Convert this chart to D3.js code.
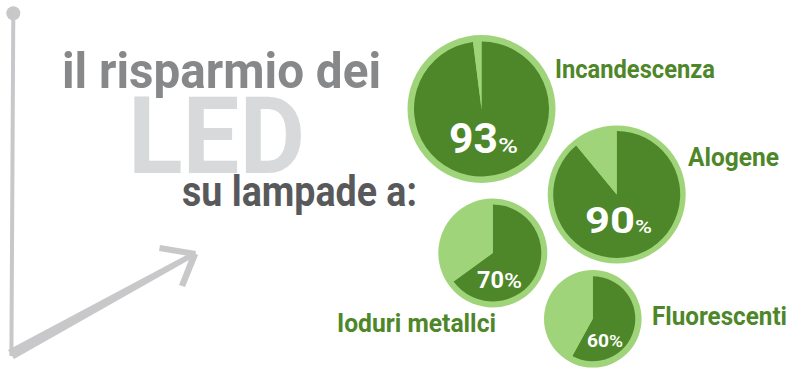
<!DOCTYPE html>
<html><head><meta charset="utf-8">
<script src="https://cdn.jsdelivr.net/npm/d3@7"></script>
<style>html,body{margin:0;padding:0;background:#fff;}svg{display:block;}</style>
</head><body>
<svg id="c" width="796" height="373"></svg>
<script>
// ---- data ----
const categories = ["Incandescenza", "Alogene", "Ioduri metallci", "Fluorescenti"];
const savings = [93, 90, 70, 60];            // printed percentage labels
const sliceShares = [98, 89, 65, 58];        // dark wedge share as drawn in the picture
const titleLines = ["il risparmio dei", "LED", "su lampade a:"];

// ---- layout ----
const layout = [
  {cx: 481.5, cy: 109, R: 74, r: 67.5, lx: 555, ly: 78, lw: 160, anchor: "start",
   num: {x: 449, y: 153, fs: 42, w: 49}, pct: {fs: 21, w: 20}},
  {cx: 616.7, cy: 194.5, R: 69, r: 63.5, lx: 688, ly: 166, lw: 91, anchor: "start",
   num: {x: 585, y: 233, fs: 37, w: 50}, pct: {fs: 19, w: 17}},
  {cx: 492.8, cy: 253, R: 54.5, r: 48.5, lx: 337, ly: 331.5, lw: 159, anchor: "start",
   num: {x: 477, y: 288, fs: 23, w: 27}, pct: {fs: 20, w: 18}},
  {cx: 592.8, cy: 318.8, R: 48.8, r: 42.5, lx: 652, ly: 325, lw: 135, anchor: "start",
   num: {x: 587, y: 347, fs: 18, w: 22}, pct: {fs: 16, w: 14}}
];
const dark = "#4e8729", light = "#a0d47a";
const fontFam = "Roboto, 'Open Sans', sans-serif";

const svg = d3.select("#c");

// ---- decorative arrows ----
const gray = "#c8c8ca";
svg.append("circle").attr("cx", 13.3).attr("cy", 13.3).attr("r", 7).attr("fill", gray);
svg.append("path").attr("d", "M11.3,13 L15.3,13 L13.4,356 L9.4,356 Z").attr("fill", gray);
svg.append("path").attr("d", "M8,350 L194,251 L196,256 L14,359 Z").attr("fill", gray);
svg.append("path").attr("d", "M160,245 L196,251 L195,257 L159,251 Z").attr("fill", gray);
svg.append("path").attr("d", "M192,252 L198,255 L185,287 L179,285 Z").attr("fill", gray);

// ---- title ----
svg.append("text").text(titleLines[1])
  .attr("x", 128).attr("y", 172.5).attr("fill", "#d8d9da")
  .attr("font-family", fontFam).attr("font-weight", 700).attr("font-size", 107)
  .attr("textLength", 177).attr("lengthAdjust", "spacingAndGlyphs");
svg.append("text").text(titleLines[0])
  .attr("x", 62).attr("y", 88).attr("fill", "#87888a")
  .attr("font-family", fontFam).attr("font-weight", 700).attr("font-size", 50)
  .attr("textLength", 319).attr("lengthAdjust", "spacingAndGlyphs");
svg.append("text").text(titleLines[2])
  .attr("x", 182).attr("y", 206).attr("fill", "#58595b")
  .attr("font-family", fontFam).attr("font-weight", 700).attr("font-size", 42)
  .attr("textLength", 235).attr("lengthAdjust", "spacingAndGlyphs");

// ---- pies ----
const pie = d3.pie().sort(null).value(d => d);
categories.forEach((cat, i) => {
  const L = layout[i];
  const g = svg.append("g").attr("transform", `translate(${L.cx},${L.cy})`);
  g.append("circle").attr("r", L.R).attr("fill", light);
  const arcs = pie([sliceShares[i], 100 - sliceShares[i]]);
  const arc = d3.arc().innerRadius(0).outerRadius(L.r);
  g.selectAll("path.s").data(arcs).join("path").attr("class", "s")
    .attr("d", arc).attr("fill", (d, j) => j === 0 ? dark : light);

  const t = svg.append("text").attr("x", L.num.x).attr("y", L.num.y)
    .attr("fill", "#fff").attr("font-family", fontFam).attr("font-weight", 700);
  t.append("tspan").text(savings[i]).attr("font-size", L.num.fs)
    .attr("textLength", L.num.w).attr("lengthAdjust", "spacingAndGlyphs");
  t.append("tspan").text("%").attr("font-size", L.pct.fs).attr("font-weight", 500)
    .attr("textLength", L.pct.w).attr("lengthAdjust", "spacingAndGlyphs");

  svg.append("text").text(cat).attr("x", L.lx).attr("y", L.ly)
    .attr("fill", dark).attr("font-family", fontFam).attr("font-weight", 700)
    .attr("font-size", 25).attr("textLength", L.lw).attr("lengthAdjust", "spacingAndGlyphs");
});
</script>
</body></html>
